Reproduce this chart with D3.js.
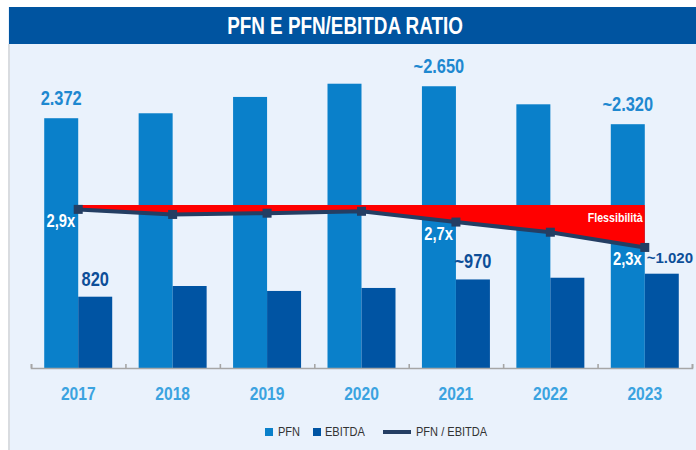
<!DOCTYPE html>
<html>
<head>
  <meta charset="utf-8">
  <title>PFN E PFN/EBITDA RATIO</title>
  <script src="https://d3js.org/d3.v7.min.js"></script>
  <style>
    body { margin: 0; background: #fff; }
    svg { display: block; font-family: "Liberation Sans", Arial, sans-serif; }
    .bold { font-weight: bold; }
  </style>
</head>
<body>
  <div id="chart"></div>

  <script>
    // Data
    const years = ["2017", "2018", "2019", "2020", "2021", "2022", "2023"];
    const pfn = [2372, 2415, 2557, 2672, 2650, 2493, 2320];
    const ebitda = [820, 913, 870, 896, 970, 985, 1020];
    const ratio = [2.9, 2.82, 2.84, 2.87, 2.7, 2.54, 2.3];
    const ratioCap = 2.97; // top edge of the red "Flessibilità" band

    // labels shown on the chart (index into years)
    const pfnLabels = [{ i: 0, text: "2.372" }, { i: 4, text: "~2.650" }, { i: 6, text: "~2.320" }];
    const ebitdaLabels = [{ i: 0, text: "820" }, { i: 4, text: "~970" }, { i: 6, text: "~1.020" }];
    const ratioLabels = [{ i: 0, text: "2,9x" }, { i: 4, text: "2,7x" }, { i: 6, text: "2,3x" }];

    const seriesNames = ["PFN", "EBITDA"];
    const colors = { PFN: "#0A80CA", EBITDA: "#0054A3", line: "#243E63", red: "#FF0000" };

    // squeeze text horizontally to mimic the narrow font of the original
    function narrow(sel, k) {
      sel.each(function() {
        const w = this.getComputedTextLength();
        d3.select(this).attr("textLength", w * (k || 0.82)).attr("lengthAdjust", "spacingAndGlyphs");
      });
    }

    const W = 696, H = 450;
    const svg = d3.select("#chart").append("svg")
      .attr("width", W)
      .attr("height", H);

    // panel + title bar
    svg.append("rect").attr("x", 8).attr("y", 7).attr("width", W).attr("height", H)
      .attr("fill", "#EAF2FC");
    svg.append("rect").attr("x", 8).attr("y", 44).attr("width", 2).attr("height", H)
      .attr("fill", "#D9DCE0");
    svg.append("rect").attr("x", 9).attr("y", 7).attr("width", W).attr("height", 37)
      .attr("fill", "#0054A0");
    svg.append("text")
      .attr("class", "bold")
      .attr("x", 345).attr("y", 34)
      .attr("text-anchor", "middle")
      .attr("fill", "#fff")
      .style("font-size", "23px")
      .text("PFN E PFN/EBITDA RATIO")
      .call(narrow, 0.82);

    const baseY = 368;

    // scales
    const x0 = d3.scaleBand().domain(years).range([31, 692]).paddingInner(0.28).paddingOuter(0.14);
    const x1 = d3.scaleBand().domain(seriesNames).range([0, x0.bandwidth()]);
    const y = d3.scaleLinear().domain([200, 3400]).range([baseY, 0]);
    const yR = d3.scaleLinear().domain([0.4, 6.2]).range([baseY, 0]);
    const cx = d => x0(d) + x0.bandwidth() / 2;

    // bars
    const rows = years.map((yr, i) => ({ year: yr, PFN: pfn[i], EBITDA: ebitda[i] }));
    svg.append("g").selectAll("g")
      .data(rows)
      .enter().append("g")
      .attr("transform", d => "translate(" + x0(d.year) + ",0)")
      .selectAll("rect")
      .data(d => seriesNames.map(k => ({ key: k, value: d[k] })))
      .enter().append("rect")
      .attr("x", d => x1(d.key))
      .attr("width", x1.bandwidth())
      .attr("y", d => y(d.value))
      .attr("height", d => baseY - y(d.value))
      .attr("fill", d => colors[d.key]);

    // x axis: boundary ticks pointing up
    const xb = d3.scaleLinear().domain([0, years.length]).range([31, 692]);
    const axisTicks = svg.append("g")
      .attr("transform", "translate(0," + baseY + ")")
      .call(d3.axisTop(xb).ticks(years.length).tickSize(4).tickSizeOuter(4).tickFormat(""));
    axisTicks.selectAll("path, line").attr("stroke", "#A6A6A6").attr("stroke-width", 1.6);

    const axisLabels = svg.append("g")
      .attr("transform", "translate(0," + baseY + ")")
      .call(d3.axisBottom(x0).tickSize(0).tickPadding(19));
    axisLabels.select(".domain").remove();
    axisLabels.attr("font-family", null).attr("font-size", null);
    axisLabels.selectAll("text")
      .attr("class", "bold")
      .attr("fill", "#3BA3E0")
      .style("font-size", "19px")
      .call(narrow);

    // red "Flessibilità" band between cap and ratio line
    const area = d3.area()
      .x((d, i) => cx(years[i]))
      .y0(() => yR(ratioCap))
      .y1(d => yR(d));
    svg.append("path")
      .datum(ratio)
      .attr("d", area)
      .attr("fill", colors.red);

    svg.append("text")
      .attr("class", "bold")
      .attr("x", cx(years[6]) - 2)
      .attr("y", yR(ratioCap) + 17)
      .attr("text-anchor", "end")
      .attr("fill", "#fff")
      .style("font-size", "13px")
      .text("Flessibilità")
      .call(narrow);

    // ratio line
    const line = d3.line()
      .x((d, i) => cx(years[i]))
      .y(d => yR(d));
    svg.append("path")
      .datum(ratio)
      .attr("d", line)
      .attr("fill", "none")
      .attr("stroke", colors.line)
      .attr("stroke-width", 4);

    svg.append("g").selectAll("rect")
      .data(ratio)
      .enter().append("rect")
      .attr("x", (d, i) => cx(years[i]) - 4.5)
      .attr("y", d => yR(d) - 4.5)
      .attr("width", 9)
      .attr("height", 9)
      .attr("fill", colors.line);

    // value labels
    svg.append("g").selectAll("text")
      .data(pfnLabels)
      .enter().append("text")
      .attr("class", "bold")
      .attr("x", d => x0(years[d.i]) + x1("PFN") + x1.bandwidth() / 2)
      .attr("y", d => y(pfn[d.i]) - 13)
      .attr("text-anchor", "middle")
      .attr("fill", "#1E88D0")
      .style("font-size", "20px")
      .text(d => d.text)
      .call(narrow);

    const ebitdaText = svg.append("g").selectAll("text")
      .data(ebitdaLabels)
      .enter().append("text")
      .attr("class", "bold")
      .attr("x", d => x0(years[d.i]) + x1("EBITDA") + x1.bandwidth() / 2)
      .attr("y", d => y(ebitda[d.i]) - 11)
      .attr("text-anchor", "middle")
      .attr("fill", "#0D4E98")
      .style("font-size", "20px")
      .text(d => d.text);
    ebitdaText.filter(d => d.i !== 6).call(narrow);
    // last label sits at the right edge: smaller real font so it stays inside
    ebitdaText.filter(d => d.i === 6)
      .attr("x", W - 3)
      .attr("text-anchor", "end")
      .style("font-size", "15px");

    svg.append("g").selectAll("text")
      .data(ratioLabels)
      .enter().append("text")
      .attr("class", "bold")
      .attr("x", d => cx(years[d.i]) - 3)
      .attr("y", d => yR(ratio[d.i]) + 18)
      .attr("text-anchor", "end")
      .attr("fill", "#fff")
      .style("font-size", "18px")
      .text(d => d.text)
      .call(narrow);

    // legend
    const legend = svg.append("g").attr("transform", "translate(265,428)");
    legend.append("rect").attr("x", 0).attr("y", 0).attr("width", 8).attr("height", 8).attr("fill", colors.PFN);
    legend.append("text").attr("x", 13).attr("y", 8).style("font-size", "13px").attr("fill", "#333").text("PFN");
    legend.append("rect").attr("x", 48).attr("y", 0).attr("width", 8).attr("height", 8).attr("fill", colors.EBITDA);
    legend.append("text").attr("x", 60).attr("y", 8).style("font-size", "13px").attr("fill", "#333").text("EBITDA");
    legend.append("line").attr("x1", 118).attr("x2", 146).attr("y1", 4).attr("y2", 4)
      .attr("stroke", colors.line).attr("stroke-width", 4);
    legend.append("text").attr("x", 151).attr("y", 8).style("font-size", "13px").attr("fill", "#333").text("PFN / EBITDA");
    legend.selectAll("text").call(narrow, 0.85);
  </script>
</body>
</html>
